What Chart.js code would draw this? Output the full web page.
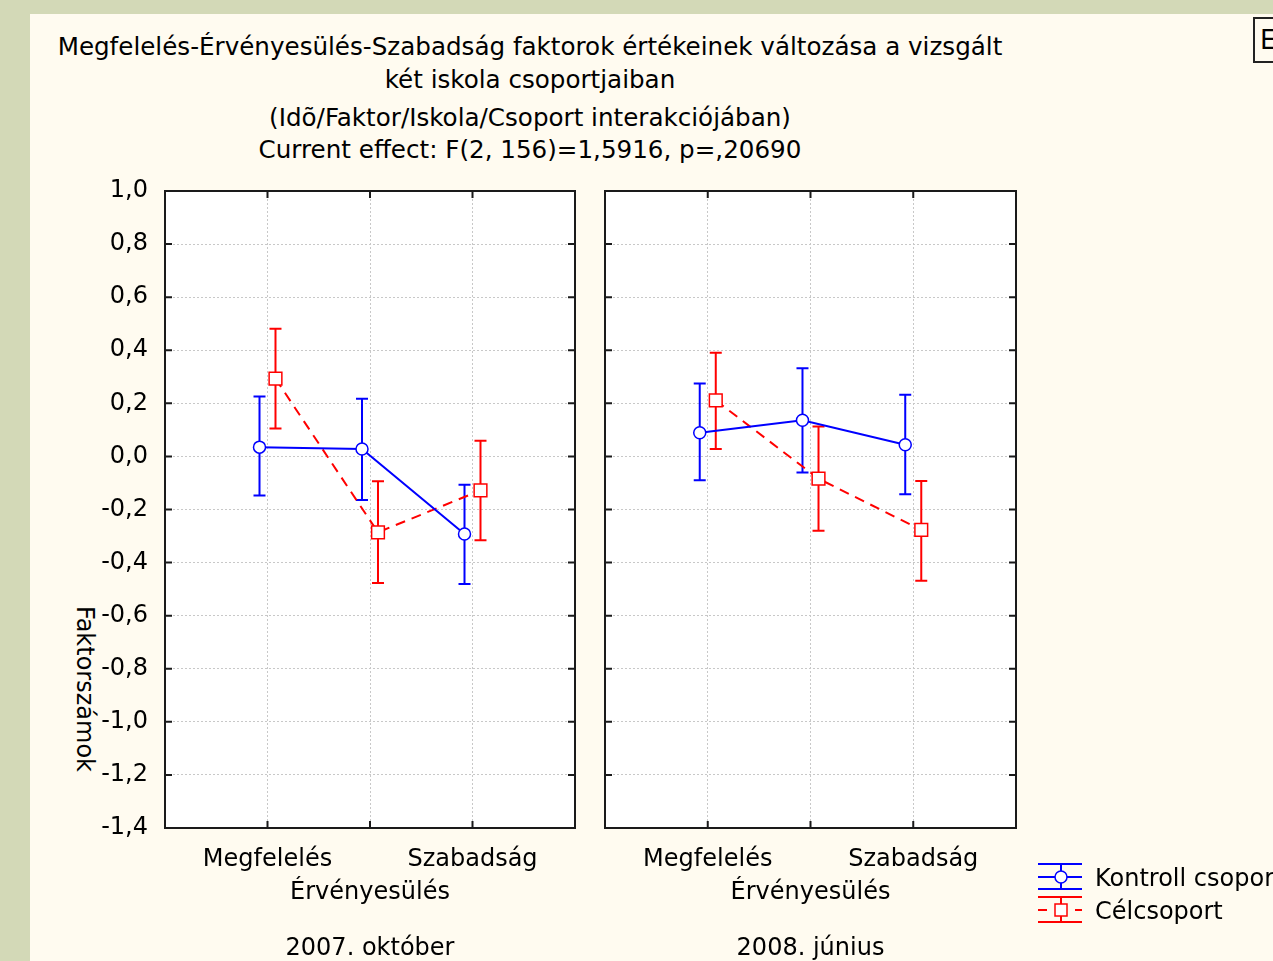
<!DOCTYPE html>
<html lang="hu">
<head>
<meta charset="utf-8">
<title>Faktorszámok</title>
<script src="https://cdn.jsdelivr.net/npm/chart.js@4.4.1/dist/chart.umd.min.js"></script>
<style>
body { margin: 0; width: 1273px; height: 961px; overflow: hidden; position: relative;
       background: #d3d9b7; font-family: "DejaVu Sans", sans-serif; color: #000; }
#lap { position: absolute; left: 30px; top: 14px; width: 1243px; height: 947px; background: #fffbf0; }
.cim { position: absolute; left: 0; width: 1060px; text-align: center; font-size: 24.6px;
       line-height: 30px; white-space: nowrap; }
#ytitle { position: absolute; left: 85px; top: 689px; font-size: 24px; white-space: nowrap;
          transform: translate(-50%, -50%) rotate(90deg); }
canvas { position: absolute; top: 0; }
#panel1 { left: 0; }
#panel2 { left: 585px; }
#jelmagyarazat { left: 1030px; top: 855px; }
.jel { position: absolute; left: 1095px; font-size: 24px; line-height: 30px; white-space: nowrap; }
#ebox { position: absolute; left: 1253px; top: 17px; width: 40px; height: 42px;
        border: 2px solid #222; font-size: 26px; line-height: 42px; padding-left: 5px; }
</style>
</head>
<body>
<div id="lap"></div>
<div class="cim" style="top:32px">Megfelelés-Érvényesülés-Szabadság faktorok értékeinek változása a vizsgált</div>
<div class="cim" style="top:65px">két iskola csoportjaiban</div>
<div class="cim" style="top:103px">(Idõ/Faktor/Iskola/Csoport interakciójában)</div>
<div class="cim" style="top:135px">Current effect: F(2, 156)=1,5916, p=,20690</div>
<div id="ytitle">Faktorszámok</div>
<div id="ebox">E</div>

<canvas id="panel1" width="600" height="961"></canvas>
<canvas id="panel2" width="450" height="961"></canvas>
<canvas id="jelmagyarazat" width="60" height="75"></canvas>
<div class="jel" style="top:863px">Kontroll csoport</div>
<div class="jel" style="top:896px">Célcsoport</div>

<script>
// adatok
var kategoriak = ['Megfelelés', 'Érvényesülés', 'Szabadság'];
var idopontok = ['2007. október', '2008. június'];
var csoportok = ['Kontroll csoport', 'Célcsoport'];

var yMin = -1.4;
var yMax = 1.0;
var yLepes = 0.2;

var kontroll2007 = [0.035, 0.028, -0.292];
var kontroll2007Also = [-0.147, -0.164, -0.481];
var kontroll2007Felso = [0.226, 0.217, -0.107];

var cel2007 = [0.293, -0.286, -0.128];
var cel2007Also = [0.105, -0.477, -0.316];
var cel2007Felso = [0.481, -0.094, 0.059];

var kontroll2008 = [0.089, 0.136, 0.044];
var kontroll2008Also = [-0.090, -0.061, -0.143];
var kontroll2008Felso = [0.275, 0.332, 0.232];

var cel2008 = [0.211, -0.084, -0.277];
var cel2008Also = [0.028, -0.280, -0.468];
var cel2008Felso = [0.391, 0.113, -0.093];

var eltolas = 0.078; // a két csoport kicsit szét van húzva

var KEK = '#0000ff';
var PIROS = '#ff0000';
var betu = { family: 'DejaVu Sans', size: 24 };

function pontok(ertekek, elt) {
    return ertekek.map(function (v, i) {
        return { x: i + 1 + elt, y: v };
    });
}

// fehér háttér, hibasávok + keret, befelé álló tick jelek
var hibaPlugin = {
    id: 'hibasav',
    beforeDraw: function (chart) {
        var a = chart.chartArea;
        chart.ctx.save();
        chart.ctx.fillStyle = '#ffffff';
        chart.ctx.fillRect(a.left, a.top, a.width, a.height);
        chart.ctx.restore();
    },
    beforeDatasetsDraw: function (chart) {
        var ctx = chart.ctx;
        var x = chart.scales.x;
        var y = chart.scales.y;
        chart.data.datasets.forEach(function (ds) {
            ctx.save();
            ctx.strokeStyle = ds.borderColor;
            ctx.lineWidth = 2;
            ctx.setLineDash([]);
            ds.data.forEach(function (p, i) {
                var px = x.getPixelForValue(p.x);
                var fent = y.getPixelForValue(ds.felso[i]);
                var lent = y.getPixelForValue(ds.also[i]);
                ctx.beginPath();
                ctx.moveTo(px, fent);
                ctx.lineTo(px, lent);
                ctx.moveTo(px - 6, fent);
                ctx.lineTo(px + 6, fent);
                ctx.moveTo(px - 6, lent);
                ctx.lineTo(px + 6, lent);
                ctx.stroke();
            });
            ctx.restore();
        });
    },
    afterDraw: function (chart) {
        var ctx = chart.ctx;
        var a = chart.chartArea;
        var x = chart.scales.x;
        var y = chart.scales.y;
        ctx.save();
        ctx.strokeStyle = '#1a1a1a';
        ctx.lineWidth = 2;
        ctx.setLineDash([]);
        ctx.beginPath();
        y.ticks.forEach(function (t) {
            var py = y.getPixelForValue(t.value);
            ctx.moveTo(a.left, py);
            ctx.lineTo(a.left + 7, py);
            ctx.moveTo(a.right - 7, py);
            ctx.lineTo(a.right, py);
        });
        x.ticks.forEach(function (t) {
            if (t.value <= 0 || t.value >= kategoriak.length + 1) return;
            var px = x.getPixelForValue(t.value);
            ctx.moveTo(px, a.top);
            ctx.lineTo(px, a.top + 7);
            ctx.moveTo(px, a.bottom - 7);
            ctx.lineTo(px, a.bottom);
        });
        ctx.stroke();
        ctx.strokeRect(a.left, a.top, a.width, a.height);
        ctx.restore();
    }
};

function panel(id, cim, kontroll, kAlso, kFelso, cel, cAlso, cFelso, yFeliratok, yWidth, jobbPadding) {
    var graf = document.getElementById(id).getContext('2d');
    return new Chart(graf, {
        type: 'line',
        data: {
            datasets: [{
                label: csoportok[0],
                data: pontok(kontroll, -eltolas),
                also: kAlso,
                felso: kFelso,
                borderColor: KEK,
                borderWidth: 2,
                pointStyle: 'circle',
                pointRadius: 6,
                pointBorderWidth: 1.5,
                pointBackgroundColor: '#ffffff',
                pointBorderColor: KEK
            }, {
                label: csoportok[1],
                data: pontok(cel, eltolas),
                also: cAlso,
                felso: cFelso,
                borderColor: PIROS,
                borderWidth: 2,
                borderDash: [10, 7],
                pointStyle: 'rect',
                pointRadius: 9,
                pointBorderWidth: 1.5,
                pointBackgroundColor: '#ffffff',
                pointBorderColor: PIROS
            }]
        },
        options: {
            responsive: false,
            animation: false,
            events: [],
            layout: { padding: { top: 191, left: 0, right: jobbPadding, bottom: 0 } },
            plugins: {
                legend: { display: false },
                tooltip: { enabled: false },
                title: { display: false }
            },
            scales: {
                x: {
                    type: 'linear',
                    min: 0,
                    max: kategoriak.length + 1,
                    afterFit: function (s) { s.height = 133; },
                    grid: { color: '#c8c8c8', lineWidth: 1, drawTicks: false },
                    border: { display: false, dash: [2, 2] },
                    ticks: {
                        stepSize: 1,
                        autoSkip: false,
                        maxRotation: 0,
                        minRotation: 0,
                        padding: 16,
                        color: '#000',
                        font: { family: 'DejaVu Sans', size: 24, lineHeight: 1.35 },
                        callback: function (v) {
                            if (v === 2) return ['', kategoriak[1]];
                            if (v === 1 || v === 3) return kategoriak[v - 1];
                            return '';
                        }
                    },
                    title: {
                        display: true,
                        text: cim,
                        color: '#000',
                        font: { family: 'DejaVu Sans', size: 24, lineHeight: 1.0 },
                        padding: { top: 0, bottom: 0 }
                    }
                },
                y: {
                    min: yMin,
                    max: yMax,
                    afterFit: function (s) { s.width = yWidth; },
                    grid: { color: '#c8c8c8', lineWidth: 1, drawTicks: false },
                    border: { display: false, dash: [2, 2] },
                    ticks: {
                        display: yFeliratok,
                        stepSize: yLepes,
                        padding: 17,
                        color: '#000',
                        font: betu,
                        callback: function (v) {
                            if (Math.abs(v) < 1e-9) v = 0;
                            return v.toFixed(1).replace('.', ',');
                        }
                    }
                }
            }
        },
        plugins: [hibaPlugin]
    });
}

panel('panel1', idopontok[0], kontroll2007, kontroll2007Also, kontroll2007Felso,
      cel2007, cel2007Also, cel2007Felso, true, 165, 25);
panel('panel2', idopontok[1], kontroll2008, kontroll2008Also, kontroll2008Felso,
      cel2008, cel2008Also, cel2008Felso, false, 20, 19);

// jelmagyarázat szimbólumai
function jelek() {
    var c = document.getElementById('jelmagyarazat').getContext('2d');
    var ox = 1030, oy = 855;
    function vonal(x1, y1, x2, y2) {
        c.beginPath();
        c.moveTo(x1 - ox, y1 - oy);
        c.lineTo(x2 - ox, y2 - oy);
        c.stroke();
    }
    c.lineWidth = 2;
    // kontroll
    c.strokeStyle = KEK;
    vonal(1038, 864, 1082, 864);
    vonal(1038, 877, 1082, 877);
    vonal(1038, 889, 1082, 889);
    vonal(1061, 864, 1061, 889);
    c.beginPath();
    c.arc(1061 - ox, 877 - oy, 6, 0, Math.PI * 2);
    c.fillStyle = '#fff';
    c.fill();
    c.lineWidth = 1.5;
    c.stroke();
    // célcsoport
    c.lineWidth = 2;
    c.strokeStyle = PIROS;
    vonal(1038, 897, 1082, 897);
    vonal(1038, 922, 1082, 922);
    vonal(1038, 910, 1047, 910);
    vonal(1075, 910, 1082, 910);
    vonal(1061, 897, 1061, 922);
    c.fillStyle = '#fff';
    c.fillRect(1055 - ox, 904 - oy, 12, 12);
    c.lineWidth = 1.5;
    c.strokeRect(1055 - ox, 904 - oy, 12, 12);
}
jelek();
</script>
</body>
</html>
